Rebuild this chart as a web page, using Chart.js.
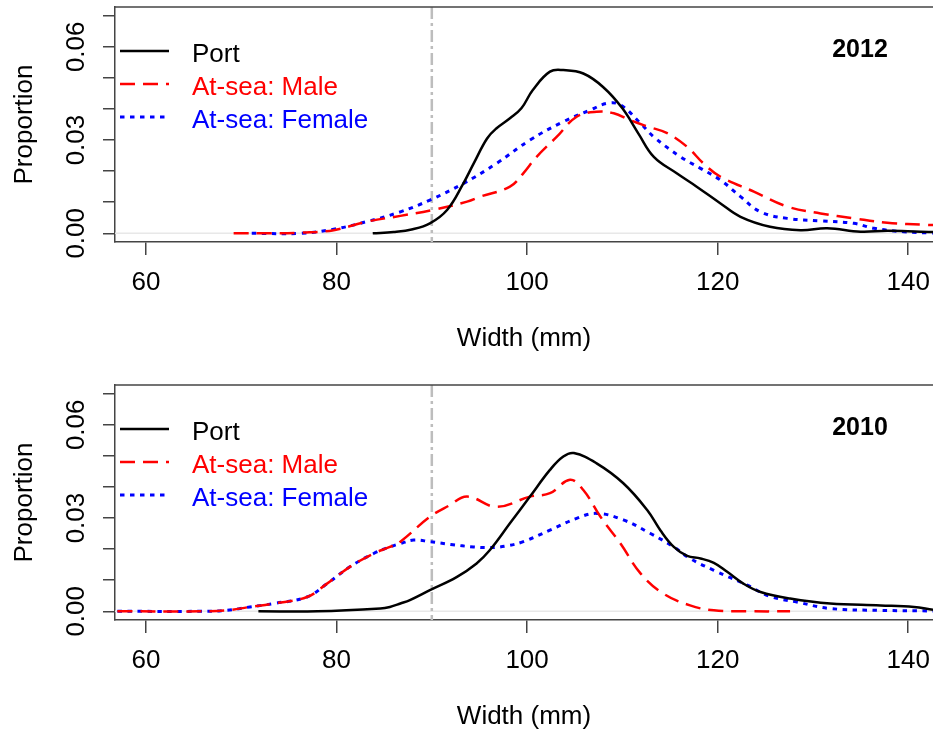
<!DOCTYPE html>
<html>
<head>
<meta charset="utf-8">
<script src="https://cdn.jsdelivr.net/npm/chart.js@4.4.1/dist/chart.umd.min.js"></script>
<style>
  html, body { margin: 0; padding: 0; background: #fff; overflow: hidden; }
  canvas { position: absolute; left: 0; }
  .chart2012 { top: 0; }
  .chart2010 { top: 378px; }
</style>
</head>
<body>
<canvas class="chart2012" width="933" height="378"></canvas>
<canvas class="chart2010" width="933" height="378"></canvas>
<script>
const chart2012El = document.querySelector(".chart2012");
const chart2010El = document.querySelector(".chart2010");

// axis ticks
const xTicks = [60, 80, 100, 120, 140];
const yTicks = [0, 0.01, 0.02, 0.03, 0.04, 0.05, 0.06, 0.07];
const yTickLabels = ["0.00", "", "", "0.03", "", "", "0.06", ""];
const cutoffWidth = 90;

const seriesNames = ["Port", "At-sea: Male", "At-sea: Female"];

const port2012W = [83.8, 86, 88, 89.8, 91.6, 93.3, 94.4, 95.8, 96.8, 98.2, 99.4, 100.6, 102.4, 103.8, 105.9, 108, 110, 111.7, 113.3, 115.7, 117.8, 120.3, 122.4, 125.5, 128.7, 131.5, 135, 137.8, 141.3, 143];
const port2012 = [0, 0.0004, 0.0013, 0.0032, 0.0075, 0.016, 0.0225, 0.0305, 0.0338, 0.037, 0.0402, 0.0461, 0.052, 0.0525, 0.0514, 0.047, 0.0402, 0.032, 0.0246, 0.0193, 0.015, 0.0096, 0.0053, 0.0021, 0.001, 0.0016, 0.0005, 0.0008, 0.0005, 0.0004];

const male2012W = [69.2, 73, 76.2, 79.7, 83.1, 86.7, 90.1, 93.7, 95.1, 98.2, 99.6, 101, 103.1, 105.2, 107.3, 109.1, 110.8, 112.7, 114.7, 116.8, 118.5, 120.3, 123.8, 127.3, 130.8, 134.3, 137.8, 142, 143];
const male2012 = [0, 0, 0.0002, 0.001, 0.0037, 0.0056, 0.0075, 0.0102, 0.0118, 0.015, 0.0193, 0.0246, 0.031, 0.0375, 0.0391, 0.0386, 0.0364, 0.0343, 0.0322, 0.0278, 0.0225, 0.0182, 0.0134, 0.0086, 0.0064, 0.0048, 0.0034, 0.0027, 0.0026];

const female2012W = [71.1, 76.2, 79.7, 83.1, 86.7, 89.8, 93.3, 96.8, 100.3, 103.8, 106.6, 108.4, 109.8, 111.9, 113.3, 116.1, 118.2, 120.3, 122.4, 124.5, 127.3, 130.8, 134.3, 136.4, 139.5, 142.3, 143];
const female2012 = [0, 0, 0.0013, 0.0037, 0.0069, 0.0107, 0.016, 0.0225, 0.030, 0.0359, 0.0396, 0.0418, 0.0413, 0.0354, 0.031, 0.0246, 0.0209, 0.0171, 0.0118, 0.0069, 0.0048, 0.004, 0.0032, 0.0016, 0.0005, 0.0001, 0];

// 2010
const port2010W = [71.8, 78, 84.6, 85.6, 86.7, 87.7, 89.8, 92.6, 94.7, 96.1, 98.2, 100.3, 102.4, 103.8, 104.9, 107.3, 110.1, 112.6, 114, 115.4, 116.8, 118.2, 119.6, 121, 122.7, 124.5, 127.6, 131.8, 137.1, 140.6, 142.6, 143];
const port2010 = [0, 0, 0.0009, 0.0014, 0.0025, 0.0036, 0.0068, 0.011, 0.0154, 0.0197, 0.0283, 0.0369, 0.0455, 0.0498, 0.0509, 0.0476, 0.0412, 0.0326, 0.026, 0.0207, 0.0178, 0.017, 0.0156, 0.0127, 0.0089, 0.0062, 0.0041, 0.0025, 0.0019, 0.0014, 0.0005, 0.0004];

const male2010W = [57, 65.7, 68.5, 70.9, 73.4, 76.9, 79, 81.4, 83.9, 85.6, 86.7, 89.8, 91.8, 93.7, 96.8, 100.3, 102.4, 104.5, 105.9, 107.7, 109.8, 111.9, 114.3, 117.1, 119.6, 123, 127.6];
const male2010 = [0, 0, 0.0003, 0.0014, 0.0025, 0.0046, 0.0089, 0.0143, 0.0186, 0.0207, 0.0224, 0.0304, 0.034, 0.0369, 0.0336, 0.0369, 0.038, 0.0423, 0.039, 0.0304, 0.0218, 0.0122, 0.0057, 0.0019, 0.0003, 0, 0];

const female2010W = [57, 65.7, 68.5, 70.9, 73.4, 76.9, 79, 81.4, 83.9, 85.6, 86.7, 88.1, 89.8, 92, 94.4, 96.1, 97.8, 99.6, 102.4, 105.2, 107.3, 110.1, 112.9, 115.4, 117.1, 119.6, 123.1, 125.5, 128.3, 131.8, 137.1, 142.6, 143];
const female2010 = [0, 0, 0.0003, 0.0014, 0.0025, 0.0046, 0.0089, 0.0143, 0.0186, 0.0207, 0.0218, 0.0229, 0.0224, 0.0215, 0.0207, 0.0205, 0.021, 0.0224, 0.0261, 0.0299, 0.0315, 0.0294, 0.0251, 0.0207, 0.017, 0.0132, 0.0084, 0.0048, 0.003, 0.0009, 0.0003, 0.0001, 0];

const fontFamily = '"Liberation Sans", Arial, Helvetica, sans-serif';
Chart.defaults.font.family = fontFamily;
Chart.defaults.color = "#000";

function toPoints(xs, ys) {
  return xs.map((x, i) => ({ x: x, y: ys[i] }));
}

function buildSets(portW, port, maleW, male, femaleW, female) {
  return [
    { label: seriesNames[0], data: toPoints(portW, port), borderColor: "#000000", borderWidth: 2.5, borderDash: [] },
    { label: seriesNames[1], data: toPoints(maleW, male), borderColor: "#ff0000", borderWidth: 2.5, borderDash: [15, 8] },
    { label: seriesNames[2], data: toPoints(femaleW, female), borderColor: "#0000ff", borderWidth: 3, borderDash: [4.5, 5.5] },
  ];
}

// grey reference lines, box top, legend and year label
const panelDecor = {
  id: "panelDecor",
  beforeDatasetsDraw(chart) {
    const { ctx, chartArea, scales } = chart;
    const y0 = scales.y.getPixelForValue(0);
    const xc = scales.x.getPixelForValue(cutoffWidth);
    ctx.save();
    ctx.strokeStyle = "#e8e8e8";
    ctx.lineWidth = 1.5;
    ctx.beginPath();
    ctx.moveTo(chartArea.left, y0);
    ctx.lineTo(chartArea.right, y0);
    ctx.stroke();
    ctx.strokeStyle = "#bdbdbd";
    ctx.lineWidth = 2.5;
    ctx.setLineDash([12, 4, 3, 4]);
    ctx.beginPath();
    ctx.moveTo(xc, chartArea.top);
    ctx.lineTo(xc, chartArea.bottom);
    ctx.stroke();
    ctx.restore();
  },
  afterDraw(chart, args, opts) {
    const { ctx, chartArea } = chart;
    ctx.save();
    ctx.strokeStyle = "#444";
    ctx.lineWidth = 1.5;
    ctx.beginPath();
    ctx.moveTo(chartArea.left, chartArea.top);
    ctx.lineTo(chartArea.right, chartArea.top);
    ctx.stroke();

    chart.data.datasets.forEach((ds, i) => {
      const ly = 51 + i * 33;
      ctx.strokeStyle = ds.borderColor;
      ctx.lineWidth = ds.borderWidth;
      ctx.setLineDash(ds.borderDash);
      ctx.beginPath();
      ctx.moveTo(120, ly);
      ctx.lineTo(169, ly);
      ctx.stroke();
      ctx.setLineDash([]);
      ctx.fillStyle = ds.borderColor;
      ctx.font = "26px " + fontFamily;
      ctx.textBaseline = "alphabetic";
      ctx.textAlign = "left";
      ctx.fillText(ds.label, 192, 61.5 + i * 33);
    });

    ctx.fillStyle = "#000";
    ctx.font = "bold 25px " + fontFamily;
    ctx.textAlign = "center";
    ctx.fillText(opts.year, 860, 57);
    ctx.restore();
  },
};

function createPanel(canvasElement, year, dataSets) {
  new Chart(canvasElement, {
    type: "line",
    data: { datasets: dataSets },
    options: {
      responsive: false,
      animation: false,
      layout: { padding: { top: 7, left: 0, right: 0, bottom: 0 } },
      elements: {
        point: { radius: 0 },
        line: { tension: 0.4, fill: false, borderCapStyle: "butt" },
      },
      plugins: {
        legend: { display: false },
        tooltip: { enabled: false },
        panelDecor: { year: year },
      },
      scales: {
        x: {
          type: "linear",
          min: 56.75,
          max: 142.6,
          afterBuildTicks: (scale) => { scale.ticks = xTicks.map((v) => ({ value: v })); },
          afterFit: (scale) => { scale.height = 136; scale.paddingLeft = 0; scale.paddingRight = 0; },
          grid: { drawOnChartArea: false, drawTicks: true, tickLength: 13, color: "#444", lineWidth: 1.5 },
          border: { display: true, color: "#444", width: 1.5 },
          ticks: { font: { size: 26 }, padding: 12, color: "#000", autoSkip: false, maxRotation: 0 },
          title: { display: true, text: "Width (mm)", font: { size: 26 }, color: "#000", padding: { top: 0, bottom: 24 } },
        },
        y: {
          type: "linear",
          min: -0.0028,
          max: 0.0728,
          afterBuildTicks: (scale) => { scale.ticks = yTicks.map((v) => ({ value: v })); },
          afterFit: (scale) => { scale.width = 115; scale.paddingTop = 0; scale.paddingBottom = 0; },
          grid: { drawOnChartArea: false, drawTicks: true, tickLength: 12, color: "#444", lineWidth: 1.5 },
          border: { display: true, color: "#444", width: 1.5 },
          ticks: {
            font: { size: 26 },
            padding: 1,
            color: "#000",
            autoSkip: false,
            minRotation: 90,
            maxRotation: 90,
            crossAlign: "center",
            callback: (value, index) => yTickLabels[index],
          },
          title: { display: true, text: "Proportion", font: { size: 26 }, color: "#000", padding: { top: 9, bottom: 0 } },
        },
      },
    },
    plugins: [panelDecor],
  });
}

createPanel(chart2012El, "2012", buildSets(port2012W, port2012, male2012W, male2012, female2012W, female2012));
createPanel(chart2010El, "2010", buildSets(port2010W, port2010, male2010W, male2010, female2010W, female2010));
</script>
</body>
</html>
